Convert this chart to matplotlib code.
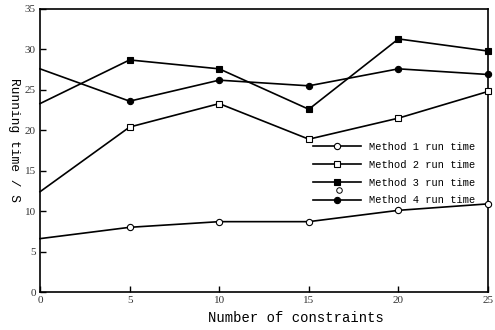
import matplotlib
matplotlib.use("Agg")
import matplotlib.pyplot as plt
from matplotlib.lines import Line2D

x = [0, 5, 10, 15, 20, 25]
method1 = [6.6, 8.0, 8.7, 8.7, 10.1, 10.9]
method2 = [12.4, 20.4, 23.3, 18.9, 21.5, 24.8]
method3 = [23.3, 28.7, 27.6, 22.6, 31.3, 29.8]
method4 = [27.6, 23.6, 26.2, 25.5, 27.6, 26.9]
labels = ["Method 1 run time", "Method 2 run time", "Method 3 run time", "Method 4 run time"]
xticks = [0, 5, 10, 15, 20, 25]
yticks = [0, 5, 10, 15, 20, 25, 30, 35]

fig = plt.figure(figsize=(4.95, 3.3), dpi=100)
ax = fig.add_axes([40/495, 1-292/330, 448/495, 283/330])

styles = [("o", "white"), ("s", "white"), ("s", "black"), ("o", "black")]
series = [method1, method2, method3, method4]
handles = []
for ys, (m, fc), lab in zip(series, styles, labels):
    ax.plot(x, ys, color="black", lw=1.2, marker=m, markersize=4.5, markeredgewidth=0.8,
            markerfacecolor=fc, markeredgecolor="black", clip_on=False, zorder=3,
            markevery=slice(1, None))
    handles.append(Line2D([], [], color="black", lw=1.2, marker=m, markersize=4.5,
                          markeredgewidth=0.8, markerfacecolor=fc, markeredgecolor="black",
                          label=lab))

ax.set_xlim(0, 25)
ax.set_ylim(0, 35)
ax.set_xticks(xticks)
ax.set_yticks(yticks)
ax.tick_params(direction="in", length=4, width=1, labelsize=8, pad=3)
for t in ax.get_xticklabels() + ax.get_yticklabels():
    t.set_fontfamily("Liberation Serif")
    t.set_color("#333333")
for s in ax.spines.values():
    s.set_linewidth(1.2)

fig.text(296/495, 1-318/330, "Number of constraints", ha="center", va="center",
         fontsize=10, family="Liberation Mono")
fig.text(14/495, 1-140/330, "Running time / S", ha="center", va="center",
         rotation=270, fontsize=9.3, family="Liberation Mono")

leg = ax.legend(handles=handles, loc="upper left", numpoints=1,
                bbox_to_anchor=(313/495, 1-142/330), bbox_transform=fig.transFigure,
                frameon=False, handlelength=4.6, handletextpad=0.8, labelspacing=0.75,
                prop={"family": "Liberation Mono", "size": 7.5}, borderpad=0, borderaxespad=0)

# stray marker artifact in legend area
fig.add_artist(Line2D([339/495], [1-190/330], transform=fig.transFigure, marker="o",
                      markersize=4, markerfacecolor="white", markeredgecolor="black",
                      markeredgewidth=0.7, linestyle="none"))

fig.savefig("out.png", dpi=100)
